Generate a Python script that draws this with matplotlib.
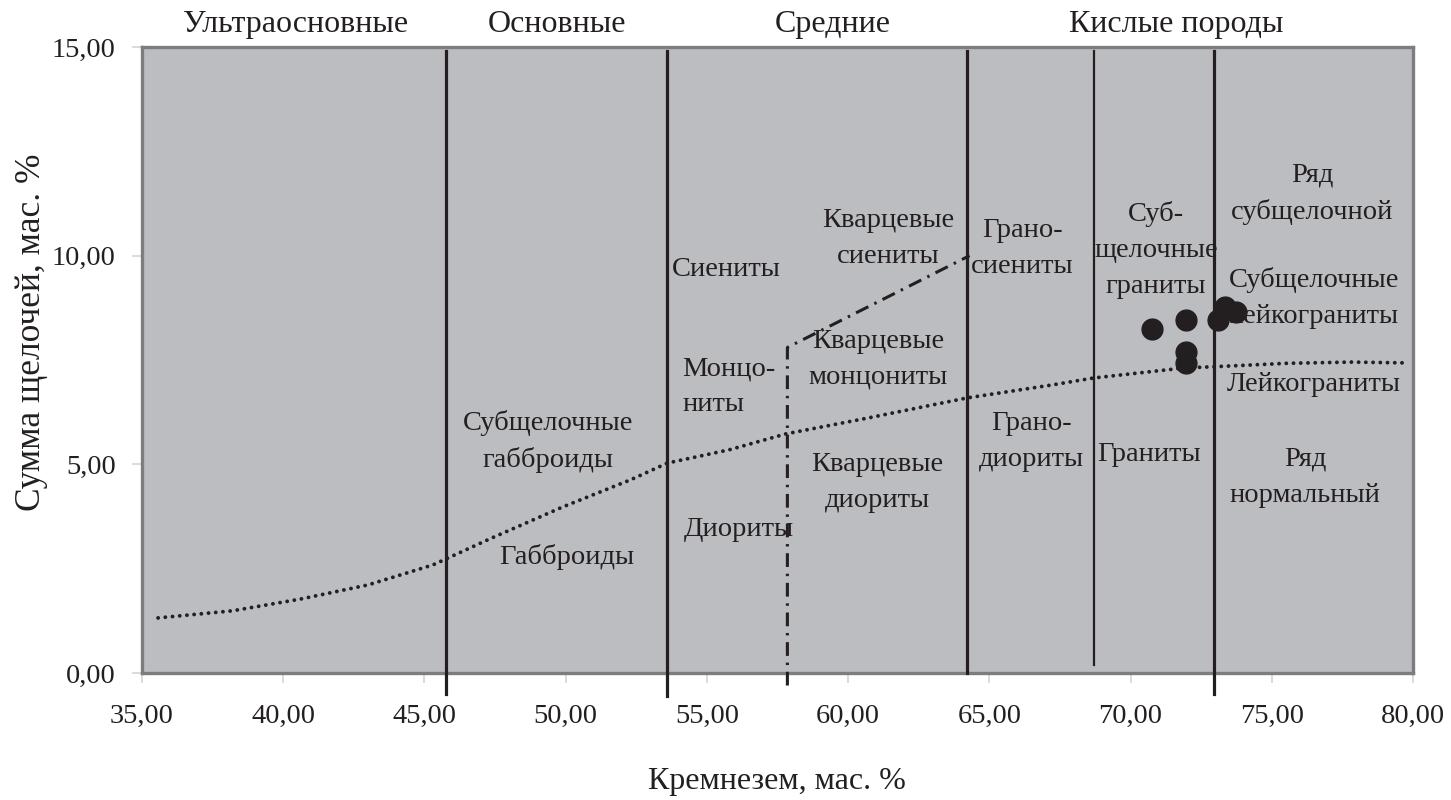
import matplotlib
matplotlib.use("Agg")
import matplotlib.pyplot as plt
from matplotlib.ticker import FuncFormatter, MultipleLocator

plt.rcParams['font.family'] = ['Liberation Serif', 'DejaVu Serif']

INK = '#231f20'

# Boundaries between rock groups (SiO2, wt.%), with their vertical extent
thick_bounds_x = [45.75, 53.6, 64.2, 72.95]
thick_bounds_ylo = [-0.5, -0.55, 0.0, -0.5]
thick_bounds_yhi = [14.9, 14.9, 14.9, 14.9]
thin_bound_x = 68.7
thin_bound_y = [0.2, 14.9]

# Quartz-bearing boundary (dash-dot)
quartz_x = [57.85, 57.85, 64.3]
quartz_y = [-0.3, 7.8, 10.0]

# Alkaline / subalkaline divide (dotted curve)
divide_x = [35.57, 38.2, 40.6, 43.0, 45.3, 47.4, 49.9, 52.3, 53.6, 55.8,
            57.8, 60.7, 64.2, 67.2, 68.7, 71.9, 73.0, 75.5, 77.8, 79.8]
divide_y = [1.32, 1.49, 1.77, 2.11, 2.59, 3.24, 3.98, 4.63, 5.03, 5.35,
            5.73, 6.11, 6.59, 6.90, 7.07, 7.31, 7.34, 7.42, 7.45, 7.43]

# Samples
sample_sio2 = [70.76, 71.97, 71.97, 71.97, 73.10, 73.35, 73.74]
sample_alk = [8.25, 8.45, 7.68, 7.44, 8.45, 8.78, 8.66]

# Group names above the plot
group_names = ['Ультраосновные', 'Основные', 'Средние', 'Кислые породы']
group_x = [40.42, 49.70, 59.47, 71.6]

# Field names inside the plot: (text, x, y, alignment)
field_labels = [
    ('Субщелочные\nгабброиды', 49.38, 5.55, 'center'),
    ('Габброиды', 50.05, 2.78, 'center'),
    ('Сиениты', 55.68, 9.66, 'center'),
    ('Монцо-\nниты', 54.12, 6.86, 'left'),
    ('Диориты', 56.14, 3.43, 'center'),
    ('Кварцевые\nсиениты', 61.42, 10.42, 'center'),
    ('Кварцевые\nмонцониты', 61.06, 7.52, 'center'),
    ('Кварцевые\nдиориты', 61.03, 4.56, 'center'),
    ('Грано-\nсиениты', 66.16, 10.17, 'center'),
    ('Грано-\nдиориты', 66.5, 5.55, 'center'),
    ('Граниты', 70.66, 5.23, 'center'),
    ('Суб-\nщелочные\nграниты', 70.9, 10.14, 'center'),
    ('Ряд\nсубщелочной', 76.43, 11.49, 'center'),
    ('Субщелочные\nлейкограниты', 76.5, 8.98, 'center'),
    ('Лейкограниты', 76.47, 6.91, 'center'),
    ('Ряд\nнормальный', 76.18, 4.69, 'center'),
]

fig = plt.figure(figsize=(14.51, 8.0), dpi=100)
ax = fig.add_axes([142 / 1451, 1 - 673 / 800, (1413 - 142) / 1451, (673 - 47) / 800])
ax.set_facecolor('#bcbdc1')
ax.set_xlim(35, 80)
ax.set_ylim(0, 15)

for s in ax.spines.values():
    s.set_color('#7d7d7f')
    s.set_linewidth(2.4)

ax.xaxis.set_major_locator(MultipleLocator(5))
ax.yaxis.set_major_locator(MultipleLocator(5))
fmt = FuncFormatter(lambda v, p: f'{v:.2f}'.replace('.', ','))
ax.xaxis.set_major_formatter(fmt)
ax.yaxis.set_major_formatter(fmt)
ax.tick_params(axis='x', length=7, width=1.2, color='#d4d4d6', pad=15,
               labelsize=20.5, labelcolor=INK)
ax.tick_params(axis='y', length=7, width=1.2, color='#d4d4d6', pad=12,
               labelsize=20.5, labelcolor=INK)

# Boundaries
for x, y0, y1 in zip(thick_bounds_x, thick_bounds_ylo, thick_bounds_yhi):
    ax.plot([x, x], [y0, y1], color=INK, lw=2.3, clip_on=False, zorder=3)
ax.plot([thin_bound_x, thin_bound_x], thin_bound_y, color=INK, lw=1.6, zorder=3)

ax.plot(quartz_x, quartz_y, color=INK, lw=2.2, clip_on=False, zorder=3,
        linestyle=(0, (4.5, 2.2, 0.8, 2.2)))

ax.plot(divide_x, divide_y, color=INK, lw=2.8, zorder=3,
        linestyle=(0, (0.01, 1.85)), dash_capstyle='round')

ax.plot(sample_sio2, sample_alk, 'o', color=INK, ms=15, zorder=4)

for name, x in zip(group_names, group_x):
    ax.text(x, 15.55, name, ha='center', va='center', fontsize=23,
            color=INK, clip_on=False)

for text, x, y, ha in field_labels:
    ax.text(x, y, text, ha=ha, va='center', fontsize=20.5, color=INK,
            linespacing=1.58, multialignment=ha, zorder=5)

fig.text(32 / 1451, 1 - 332 / 800, 'Сумма щелочей, мас. %', rotation=90,
         ha='center', va='center', fontsize=25.5, color=INK)
fig.text(777 / 1451, 1 - 781 / 800, 'Кремнезем, мас. %', ha='center',
         va='center', fontsize=23, color=INK)

fig.savefig('out.png', dpi=100, facecolor='white')
